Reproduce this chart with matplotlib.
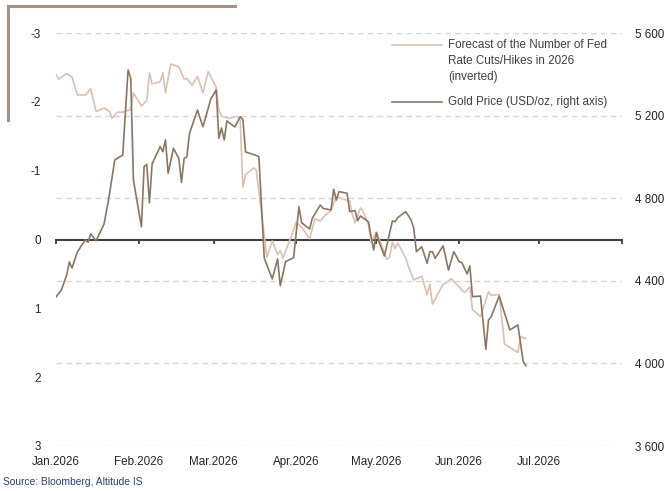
import numpy as np
import pandas as pd
import matplotlib
matplotlib.use("Agg")
import matplotlib.pyplot as plt
from matplotlib.lines import Line2D
from matplotlib.ticker import FuncFormatter

plt.rcParams['font.family'] = ['Liberation Sans', 'DejaVu Sans']
plt.rcParams['axes.unicode_minus'] = False

# Datos (dias desde 1 ene 2026)
start = pd.Timestamp("2026-01-01")

fed_dias = [0, 1, 4, 6, 8, 11, 13, 15, 18, 20, 21, 23, 25, 28, 29, 32, 34, 35, 36, 39,
            40, 41, 43, 46, 48, 49, 51, 53, 55, 57, 60, 61, 62, 65, 68, 69, 70, 71, 74, 75,
            79, 81, 83, 84, 85, 87, 90, 92, 95, 97, 99, 101, 103, 105, 110, 111, 112, 114, 115, 117,
            118, 120, 124, 125, 126, 127, 128, 131, 132, 134, 137, 139, 140, 141, 145, 146, 148, 153, 155, 156,
            159, 162, 163, 166, 168, 173, 174, 176]
fed_cortes = [-2.40, -2.33, -2.41, -2.36, -2.10, -2.10, -2.19, -1.86, -1.91, -1.86, -1.76, -1.85, -1.85, -1.89, -2.13, -1.94, -2.02, -2.42, -2.26, -2.29,
              -2.42, -2.13, -2.55, -2.51, -2.33, -2.34, -2.24, -2.37, -2.13, -2.44, -2.21, -1.88, -1.79, -1.76, -1.79, -1.74, -0.76, -0.94, -1.04, -1.01,
              0.26, 0.02, 0.22, 0.16, 0.27, 0.07, -0.25, -0.18, -0.01, -0.30, -0.27, -0.36, -0.42, -0.62, -0.56, -0.36, -0.24, -0.46, -0.41, -0.22,
              0.04, -0.11, 0.29, 0.25, 0.04, 0.13, 0.05, 0.27, 0.39, 0.59, 0.53, 0.80, 0.65, 0.94, 0.65, 0.63, 0.57, 0.77, 0.69, 1.02,
              1.12, 0.76, 0.81, 0.80, 1.52, 1.64, 1.41, 1.44]

oro_dias = [0, 2, 4, 5, 6, 8, 11, 12, 13, 15, 18, 20, 22, 25, 27, 28, 29, 32, 33, 34,
            35, 36, 39, 40, 41, 42, 44, 46, 47, 48, 49, 50, 53, 55, 56, 58, 60, 61, 62, 63,
            64, 67, 69, 70, 71, 75, 76, 78, 81, 83, 84, 86, 89, 91, 92, 95, 96, 99, 100, 103,
            104, 105, 106, 109, 110, 112, 113, 114, 117, 119, 120, 121, 123, 126, 127, 128, 131, 133, 134, 135,
            137, 139, 140, 141, 142, 145, 147, 149, 151, 152, 154, 155, 156, 159, 161, 162, 163, 166, 170, 173,
            175, 176]
oro_precio = [4322, 4355, 4428, 4491, 4462, 4540, 4598, 4587, 4627, 4594, 4675, 4816, 4985, 5009, 5421, 5381, 4888, 4662, 4953, 4964,
              4778, 4966, 5050, 5025, 5082, 4921, 5042, 4992, 4877, 4993, 5000, 5114, 5227, 5146, 5189, 5281, 5324, 5090, 5140, 5082,
              5174, 5145, 5195, 5181, 5024, 5007, 5001, 4510, 4409, 4506, 4376, 4493, 4512, 4759, 4681, 4651, 4703, 4767, 4751, 4743,
              4843, 4791, 4832, 4824, 4735, 4740, 4691, 4714, 4686, 4549, 4633, 4589, 4520, 4690, 4686, 4706, 4735, 4695, 4654, 4541,
              4565, 4485, 4541, 4541, 4509, 4569, 4452, 4541, 4493, 4488, 4433, 4472, 4323, 4326, 4068, 4210, 4226, 4326, 4162, 4186,
              4008, 3989]

meses = pd.date_range("2026-01-01", "2026-08-01", freq="MS")
etiquetas = ["Jan.2026", "Feb.2026", "Mar.2026", "Apr.2026", "May.2026", "Jun.2026", "Jul.2026"]

fed_fechas = start + pd.to_timedelta(fed_dias, unit="D")
oro_fechas = start + pd.to_timedelta(oro_dias, unit="D")

color_fed = '#dcc0b2'
color_oro = '#8c7662'
color_txt = '#262626'
fs = 8.4

fig = plt.figure(figsize=(6.69, 4.91), dpi=100)
ax = fig.add_axes([56/669, 1-446/491, (622-56)/669, (446-33)/491])
ax2 = ax.twinx()

# Eje izquierdo (invertido)
ax.set_ylim(3, -3)
ax.set_yticks([-3, -2, -1, 0, 1, 2, 3])
ax.set_xlim(meses[0], meses[-1])
ax.plot(fed_fechas, fed_cortes, color=color_fed, lw=1.2, zorder=3)

for s in ['left', 'right', 'top']:
    ax.spines[s].set_visible(False)
ax.spines['bottom'].set_position(('data', 0))
ax.spines['bottom'].set_color('#404040')
ax.spines['bottom'].set_linewidth(1.5)
ax.set_xticks(meses)
ax.tick_params(axis='x', direction='out', length=3, width=1.3, color='#404040', labelbottom=False)
ax.tick_params(axis='y', length=0, pad=11, labelsize=fs, labelcolor=color_txt)

# Etiquetas de meses abajo
sec = ax.secondary_xaxis(0)
sec.set_xticks(meses[:-1])
sec.set_xticklabels(etiquetas)
sec.spines['bottom'].set_visible(False)
sec.tick_params(length=0, pad=7, labelsize=fs, labelcolor=color_txt)

# Eje derecho (oro)
ax2.set_ylim(3600, 5600)
ax2.set_yticks([3600, 4000, 4400, 4800, 5200, 5600])
ax2.yaxis.set_major_formatter(FuncFormatter(lambda v, p: f"{int(v):,}".replace(",", " ")))
ax2.grid(axis='y', linestyle=(0, (4, 3)), color='#d6d6d6', lw=1)
ax2.set_axisbelow(True)
for s in ax2.spines.values():
    s.set_visible(False)
ax2.tick_params(axis='y', length=0, pad=9, labelsize=fs, labelcolor=color_txt)
ax2.plot(oro_fechas, oro_precio, color=color_oro, lw=1.2, zorder=4)

# Leyenda manual
W, H = 669, 491
fig.add_artist(Line2D([392/W, 442/W], [1-45/H, 1-45/H], color=color_fed, lw=1.2))
fig.text(448/W, 1-45/H, "Forecast of the Number of Fed", fontsize=fs, color='#404040', va='center')
fig.text(448/W, 1-61/H, "Rate Cuts/Hikes in 2026", fontsize=fs, color='#404040', va='center')
fig.text(448/W, 1-77/H, "(inverted)", fontsize=fs, color='#404040', va='center')
fig.add_artist(Line2D([392/W, 442/W], [1-102/H, 1-102/H], color=color_oro, lw=1.2))
fig.text(448/W, 1-102/H, "Gold Price (USD/oz, right axis)", fontsize=fs, color='#404040', va='center')

# Decoracion arriba a la izquierda
fig.add_artist(Line2D([8/W, 8/W], [1-6/H, 1-120/H], color='#a39382', lw=2.2))
fig.add_artist(Line2D([8/W, 235/W], [1-6/H, 1-6/H], color='#a39382', lw=2.2))

fig.text(3/W, 1-482/H, "Source: Bloomberg, Altitude IS", fontsize=7.4, color='#2f4070', va='center')

fig.savefig("out.png", dpi=100)
